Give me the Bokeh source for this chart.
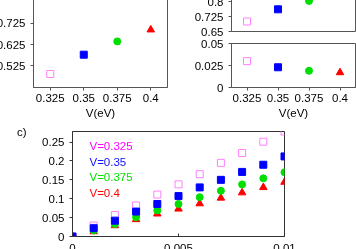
from bokeh.plotting import figure
from bokeh.layouts import column, row
from bokeh.models import Range1d, FixedTicker, Label, LinearAxis
from bokeh.embed import file_html
from bokeh.resources import INLINE

# ---- data ----
v = [0.325, 0.35, 0.375, 0.4]
v_tick_labels = ["0.325", "0.35", "0.375", "0.4"]
series_names = ["V=0.325", "V=0.35", "V=0.375", "V=0.4"]

a_vals = [0.4875, 0.578, 0.6405, 0.695]
b_upper_vals = [0.700, 0.761, 0.803, 0.835]
b_lower_vals = [0.030, 0.023, 0.019, 0.017]

a_yticks = [0.525, 0.625, 0.725]
a_ytick_labels = ["0.525", "0.625", "0.725"]
bu_yticks = [0.65, 0.725, 0.8]
bu_ytick_labels = ["0.65", "0.725", "0.8"]
bl_yticks = [0.0, 0.025, 0.05]
bl_ytick_labels = ["0", "0.025", "0.05"]

eps = [0.0, 0.001, 0.002, 0.003, 0.004, 0.005, 0.006, 0.007, 0.008, 0.009, 0.01]
c_v0325 = [0.0, 0.029, 0.057, 0.082, 0.111, 0.138, 0.165, 0.195, 0.221, 0.251, 0.278]
c_v035 = [0.0, 0.022, 0.042, 0.066, 0.086, 0.107, 0.130, 0.150, 0.171, 0.190, 0.212]
c_v0375 = [0.0, 0.016, 0.033, 0.051, 0.069, 0.086, 0.104, 0.121, 0.138, 0.154, 0.170]
c_v04 = [0.0, 0.013, 0.029, 0.045, 0.060, 0.073, 0.087, 0.102, 0.116, 0.130, 0.144]
c_xticks = [0.0, 0.005, 0.01]
c_xtick_labels = ["0", "0.005", "0.01"]
c_yticks = [0.0, 0.05, 0.1, 0.15, 0.2, 0.25]
c_ytick_labels = ["0", "0.05", "0.1", "0.15", "0.2", "0.25"]
legend_y = [0.2407, 0.198, 0.157, 0.1156]
panel_tag = "c)"
panel_tag_y = 0.2778

# ---- styles ----
FONT = "Liberation Sans"
FS = "11.5px"
marker_line = ["#ff80ff", "#0000ff", "#00e000", "#ff0000"]
marker_fill = [None, "#0000ff", "#00e000", "#ff0000"]
text_colors = ["#ff00ff", "#1010ff", "#00e000", "#ff0000"]
markers = ["square", "square", "circle", "triangle"]
sizes = [7, 7, 7, 7.5]
FRAME = "#555555"


def style(p, frame=FRAME):
    p.grid.visible = False
    p.outline_line_color = frame
    p.outline_line_width = 1
    p.border_fill_color = "white"
    p.background_fill_color = "white"
    for ax in p.axis:
        ax.axis_line_color = frame
        ax.major_tick_line_color = frame
        ax.minor_tick_line_color = None
        ax.major_tick_in = 0
        ax.major_tick_out = 3
        ax.major_label_standoff = 5
        ax.major_label_text_font = FONT
        ax.major_label_text_font_size = FS
        ax.major_label_text_color = "black"
        ax.axis_label_text_font = FONT
        ax.axis_label_text_font_size = FS
        ax.axis_label_text_font_style = "normal"
        ax.axis_label_text_color = "black"


def set_ticks(axis, ticks, labels):
    axis.ticker = FixedTicker(ticks=ticks)
    axis.major_label_overrides = {t: l for t, l in zip(ticks, labels)}


def add_points(p, xs, ys):
    for i in range(len(xs)):
        p.scatter([xs[i]], [ys[i]], marker=markers[i], size=sizes[i],
                  line_color=marker_line[i], fill_color=marker_fill[i], line_width=1)


common = dict(output_backend="svg", toolbar_location=None, tools="")

# ---- panel a (top left) ----
pa = figure(width=195, height=135, x_range=Range1d(0.3125, 0.4125),
            y_range=Range1d(0.424, 0.424 + 97 / 213.0),
            min_border_left=43, min_border_right=18, min_border_top=0, min_border_bottom=38,
            **common)
style(pa)
set_ticks(pa.xaxis[0], v, v_tick_labels)
set_ticks(pa.yaxis[0], a_yticks, a_ytick_labels)
pa.xaxis.axis_label = "V(eV)"
pa.xaxis.major_label_standoff = 3
pa.xaxis.axis_label_standoff = 2
add_points(pa, v, a_vals)

# ---- panel b upper ----
pbu = figure(width=175, height=47, x_range=Range1d(0.3125, 0.4125),
             y_range=Range1d(0.65, 0.65 + 41 / 200.0), x_axis_location=None,
             min_border_left=46, min_border_right=5, min_border_top=0, min_border_bottom=6,
             **common)
style(pbu)
set_ticks(pbu.yaxis[0], bu_yticks, bu_ytick_labels)
add_points(pbu, v, b_upper_vals)

# ---- panel b lower ----
pbl = figure(width=175, height=88, x_range=Range1d(0.3125, 0.4125),
             y_range=Range1d(0.0, 0.05),
             min_border_left=46, min_border_right=5, min_border_top=6, min_border_bottom=38,
             **common)
style(pbl)
set_ticks(pbl.xaxis[0], v, v_tick_labels)
set_ticks(pbl.yaxis[0], bl_yticks, bl_ytick_labels)
pbl.xaxis.axis_label = "V(eV)"
pbl.xaxis.major_label_standoff = 3
pbl.xaxis.axis_label_standoff = 2
add_points(pbl, v, b_lower_vals)

# ---- panel c (bottom) ----
pc = figure(width=370, height=135, x_range=Range1d(0.0, 0.01),
            y_range=Range1d(0.0, 0.278),
            min_border_left=82, min_border_right=76, min_border_top=6, min_border_bottom=24,
            **common)
# outer axis carrying only the panel tag "c)"
tag_axis = LinearAxis()
pc.add_layout(tag_axis, "left")
style(pc, "#333333")
set_ticks(pc.xaxis[0], c_xticks, c_xtick_labels)
set_ticks(pc.yaxis[0], c_yticks, c_ytick_labels)
set_ticks(tag_axis, [panel_tag_y], [panel_tag])
tag_axis.axis_line_color = None
tag_axis.major_tick_line_color = None
tag_axis.major_tick_out = 0
tag_axis.major_label_standoff = 13
pc.xaxis.major_tick_in = 3
pc.xaxis.major_tick_out = 0
pc.xaxis.major_label_standoff = 7
c_series = [c_v0325, c_v04, c_v0375, c_v035]
c_idx = [0, 3, 2, 1]
for s, i in zip(c_series, c_idx):
    pc.scatter(eps, s, marker=markers[i], size=sizes[i],
               line_color=marker_line[i], fill_color=marker_fill[i], line_width=1)
for i in range(4):
    pc.add_layout(Label(x=0.0008, y=legend_y[i], text=series_names[i],
                        text_color=text_colors[i], text_font=FONT, text_font_size=FS,
                        text_baseline="middle"))

root = column(row(pa, column(pbu, pbl)), pc,
              styles={"position": "fixed", "left": "-10px", "top": "-10px"})

open("out.html", "w").write(file_html(root, INLINE))
